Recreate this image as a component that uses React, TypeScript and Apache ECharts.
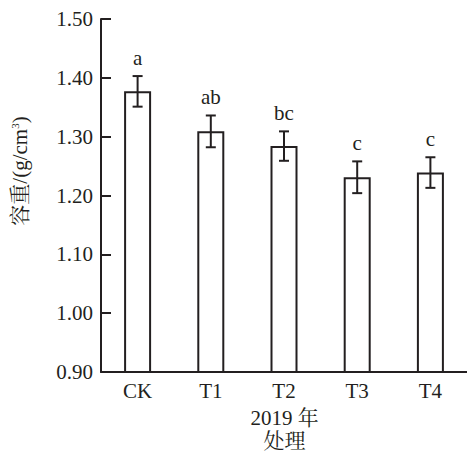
import React, { useEffect, useRef } from "react";
import * as echarts from "echarts";

const categories = ["CK", "T1", "T2", "T3", "T4"];
const means = [1.377, 1.309, 1.284, 1.231, 1.239];
const errors = [0.026, 0.027, 0.025, 0.027, 0.026];
const letters = ["a", "ab", "bc", "c", "c"];
const yTicks = { min: 0.9, max: 1.5, interval: 0.1 };

const INK = "#231f20";
const FONT = "'Liberation Serif', 'Noto Serif CJK SC', 'Noto Sans CJK SC', serif";

export default function App() {
  const ref = useRef<HTMLDivElement>(null);
  useEffect(() => {
    const chart = echarts.init(ref.current!, null, { renderer: "svg" });
    chart.setOption({
      animation: false,
      backgroundColor: "#fff",
      grid: { left: 101, top: 19, width: 367, height: 353, containLabel: false },
      xAxis: {
        type: "category",
        data: categories,
        axisTick: { show: false },
        axisLine: { lineStyle: { color: INK, width: 2 } },
        axisLabel: { color: INK, fontFamily: FONT, fontSize: 21, margin: 8 },
      },
      yAxis: {
        type: "value",
        min: yTicks.min,
        max: yTicks.max,
        interval: yTicks.interval,
        splitLine: { show: false },
        axisLine: { show: true, lineStyle: { color: INK, width: 2 } },
        axisTick: { show: true, inside: true, length: 10, lineStyle: { color: INK, width: 2 } },
        axisLabel: {
          color: INK,
          fontFamily: FONT,
          fontSize: 21,
          margin: 8,
          formatter: (v: number) => v.toFixed(2),
        },
      },
      graphic: [
        {
          type: "text",
          x: 20,
          y: 171,
          rotation: Math.PI / 2,
          style: {
            text: "容重/(g/cm{sup|3})",
            fill: INK,
            font: `21px ${FONT}`,
            align: "center",
            verticalAlign: "middle",
            rich: {
              sup: { fontSize: 11, fontFamily: FONT, fill: INK, verticalAlign: "top", padding: [0, 0, 8, 0] },
            },
          },
        },
        {
          type: "text",
          x: 284.5,
          y: 418,
          style: { text: "2019 年", fill: INK, font: `21px ${FONT}`, align: "center", verticalAlign: "middle" },
        },
        {
          type: "text",
          x: 284.5,
          y: 441,
          style: { text: "处理", fill: INK, font: `21px ${FONT}`, align: "center", verticalAlign: "middle" },
        },
      ],
      series: [
        {
          type: "bar",
          data: means,
          barWidth: 27,
          itemStyle: { color: "#fff", borderColor: INK, borderWidth: 2 },
          z: 2,
        },
        {
          type: "custom",
          z: 3,
          data: means.map((m, i) => [i, m, errors[i]]),
          renderItem: (params: any, api: any) => {
            const i = api.value(0);
            const m = api.value(1);
            const e = api.value(2);
            const top = api.coord([i, m + e]);
            const bot = api.coord([i, m - e]);
            const x = top[0];
            const hw = 5;
            const st = { stroke: INK, lineWidth: 2 };
            return {
              type: "group",
              children: [
                { type: "line", shape: { x1: x, y1: top[1], x2: x, y2: bot[1] }, style: st },
                { type: "line", shape: { x1: x - hw, y1: top[1], x2: x + hw, y2: top[1] }, style: st },
                { type: "line", shape: { x1: x - hw, y1: bot[1], x2: x + hw, y2: bot[1] }, style: st },
                {
                  type: "text",
                  x: x,
                  y: top[1] - 18,
                  style: {
                    text: letters[params.dataIndex],
                    fill: INK,
                    font: `21px ${FONT}`,
                    align: "center",
                    verticalAlign: "middle",
                  },
                },
              ],
            };
          },
        },
      ],
    });
    return () => chart.dispose();
  }, []);
  return (
    <div
      ref={ref}
      style={{ position: "fixed", left: 0, top: 0, width: 467, height: 457, background: "#fff" }}
    />
  );
}
